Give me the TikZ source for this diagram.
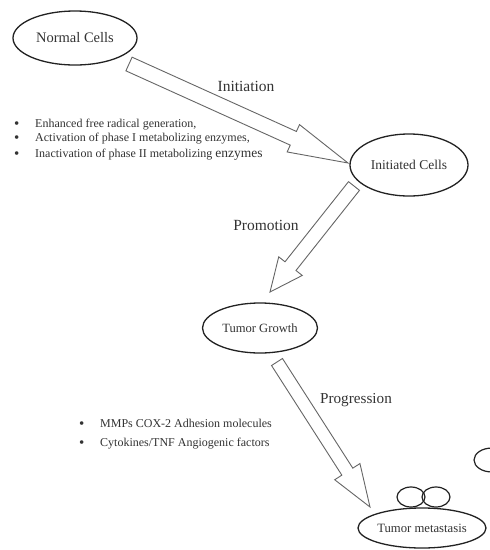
\documentclass[tikz,border=0pt]{standalone}
\usepackage{fontspec}
\setmainfont{Liberation Serif}
\usetikzlibrary{shapes.geometric,calc}
\definecolor{ink}{HTML}{333333}
\definecolor{edge}{HTML}{222222}
\definecolor{aline}{HTML}{666666}
\tikzset{
  cell/.style={ellipse, draw=edge, line width=1.3pt, inner sep=0pt, text=ink},
  bubble/.style={ellipse, draw=edge, line width=1.2pt, inner sep=0pt},
  stage/.style={text=ink, inner sep=0pt},
  blockarrow/.style={draw=aline, line width=0.9pt, fill=white, line join=miter},
  bul/.style={text=ink, inner sep=0pt, anchor=base west, font=\fontsize{12}{14}\selectfont},
  dot/.style={text=ink, inner sep=0pt, anchor=base west, font=\fontsize{15}{16}\selectfont},
}
\newcommand\hollowarrow[5]{%
  \coordinate (hb) at ($(#2)!#5!(#1)$);
  \draw[blockarrow] ($(#1)!#3!90:(#2)$) -- ($(hb)!#3!90:(#2)$) -- ($(hb)!#4!90:(#2)$) -- (#2)
    -- ($(hb)!#4!-90:(#2)$) -- ($(hb)!#3!-90:(#2)$) -- ($(#1)!#3!-90:(#2)$) -- cycle;
}
\begin{document}
\begin{tikzpicture}[x=1pt,y=-1pt]
\useasboundingbox (0,0) rectangle (490,550);
\fill[white] (0,0) rectangle (490,550);

% arrow end points
\coordinate (initTail) at (129,64);
\coordinate (initTip) at (348,163);
\coordinate (promTail) at (354,186);
\coordinate (promTip) at (270,292);
\coordinate (progTail) at (277,362);
\coordinate (progTip) at (370,507);

\hollowarrow{initTail}{initTip}{7.5pt}{15pt}{60pt}
\hollowarrow{promTail}{promTip}{7pt}{15pt}{33pt}
\hollowarrow{progTail}{progTip}{6.5pt}{15pt}{42pt}

% cells
\node[cell, minimum width=124pt, minimum height=54pt, font=\fontsize{14.5}{16}\selectfont] (normal) at (75,38) {Normal Cells};
\node[cell, minimum width=118pt, minimum height=62pt, font=\fontsize{13.5}{15}\selectfont] (initiated) at (409,165) {Initiated Cells};
\node[cell, minimum width=115pt, minimum height=50pt, font=\fontsize{12.6}{14}\selectfont] (growth) at (260,328) {Tumor Growth};
\node[cell, minimum width=128pt, minimum height=40pt, font=\fontsize{12.7}{14}\selectfont] (meta) at (422,528) {Tumor metastasis};
\node[bubble, minimum width=28pt, minimum height=20pt] (c1) at (411,497) {};
\node[bubble, minimum width=28pt, minimum height=20pt] (c2) at (436,497) {};
\node[bubble, minimum width=36pt, minimum height=24pt] (c3) at (492,460) {};

% stage labels
\node[stage, font=\fontsize{15.5}{17}\selectfont] (initiation) at (246,86) {Initiation};
\node[stage, font=\fontsize{15.5}{17}\selectfont] (promotion) at (266,225) {Promotion};
\node[stage, font=\fontsize{15.2}{17}\selectfont] (progression) at (356,400) {Progression};

% list 1
\node[dot] (b1) at (14,128) {\textbullet};
\node[bul] (t1) at (35,127) {Enhanced free radical generation,};
\node[dot] (b2) at (14,142) {\textbullet};
\node[bul] (t2) at (35,141) {Activation of phase I metabolizing enzymes,};
\node[dot] (b3) at (14,158) {\textbullet};
\node[bul] (t3) at (35,157) {Inactivation of phase II metabolizing {\fontsize{13.5}{15}\selectfont enzymes}};

% list 2
\node[dot] (b4) at (79,428) {\textbullet};
\node[bul] (t4) at (100,427) {MMPs COX-2 Adhesion molecules};
\node[dot] (b5) at (79,447) {\textbullet};
\node[bul] (t5) at (100,446) {Cytokines/TNF Angiogenic factors};
\end{tikzpicture}
\end{document}
